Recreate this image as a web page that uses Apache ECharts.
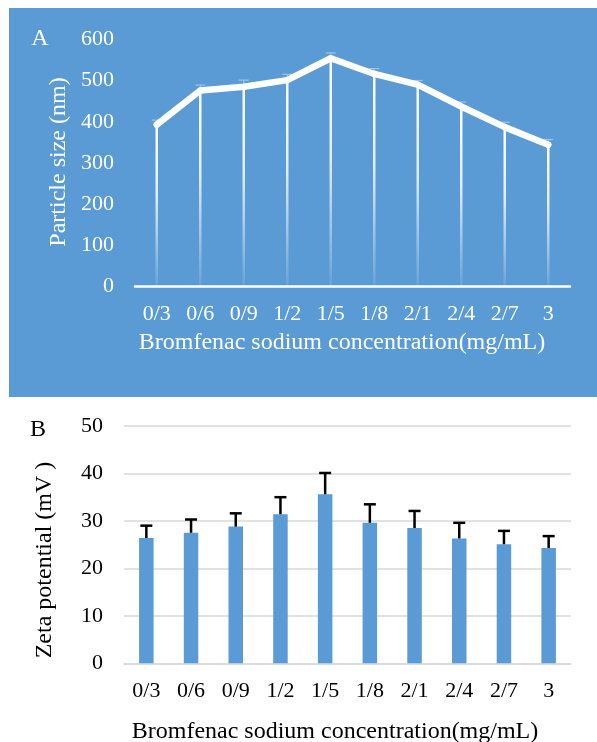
<!DOCTYPE html>
<html>
<head>
<meta charset="utf-8">
<script src="https://cdn.jsdelivr.net/npm/echarts@6/dist/echarts.min.js"></script>
<style>html,body{margin:0;padding:0;background:#fff}#c{width:597px;height:742px}</style>
</head>
<body>
<div id="c"></div>
<script>
const categories = ['0/3','0/6','0/9','1/2','1/5','1/8','2/1','2/4','2/7','3'];
const sizeValues = [393, 476, 485, 501, 554, 516, 490, 437, 387, 344];
const sizeErrors = [11, 13, 16, 14, 13, 13, 10, 11, 12, 13];
const zetaValues = [26.4, 27.5, 28.8, 31.4, 35.6, 29.6, 28.5, 26.3, 25.1, 24.3];
const zetaErrors = [2.6, 2.8, 2.8, 3.6, 4.5, 3.9, 3.6, 3.3, 2.8, 2.5];
const sizeTicks = {min: 0, max: 600, interval: 100};
const zetaTicks = {min: 0, max: 50, interval: 10};

const FONT = "'Liberation Serif', 'Times New Roman', serif";
const BLUE = '#5B9BD5';

function errRender(color, width, capW, upperOnly) {
  return function (params, api) {
    const i = api.value(0), v = api.value(1), e = api.value(2);
    const top = api.coord([i, v + e]);
    const bot = api.coord([i, upperOnly ? v : v - e]);
    const st = {stroke: color, lineWidth: width};
    return {type: 'group', children: [
      {type: 'line', shape: {x1: top[0], y1: top[1], x2: bot[0], y2: bot[1]}, style: st},
      {type: 'line', shape: {x1: top[0] - capW / 2, y1: top[1], x2: top[0] + capW / 2, y2: top[1]}, style: st}
    ]};
  };
}

const chart = echarts.init(document.getElementById('c'), null, {renderer: 'canvas'});
chart.setOption({
  animation: false,
  backgroundColor: '#ffffff',
  textStyle: {fontFamily: FONT},
  graphic: [
    {type: 'rect', z: -10, shape: {x: 9, y: 8, width: 600, height: 389}, style: {fill: BLUE}},
    {type: 'text', x: 40, y: 39, style: {text: 'A', fill: '#ffffff', font: '24px ' + FONT, align: 'center', verticalAlign: 'middle'}},
    {type: 'text', x: 59, y: 162, rotation: Math.PI / 2, style: {text: 'Particle size (nm)', fill: '#ffffff', font: '24px ' + FONT, align: 'center', verticalAlign: 'middle'}},
    {type: 'text', x: 342, y: 343, style: {text: 'Bromfenac sodium concentration(mg/mL)', fill: '#ffffff', font: '24px ' + FONT, align: 'center', verticalAlign: 'middle'}},
    {type: 'text', x: 38, y: 430, style: {text: 'B', fill: '#000000', font: '24px ' + FONT, align: 'center', verticalAlign: 'middle'}},
    {type: 'text', x: 45, y: 560, rotation: Math.PI / 2, style: {text: 'Zeta potential (mV )', fill: '#000000', font: '24px ' + FONT, align: 'center', verticalAlign: 'middle'}},
    {type: 'text', x: 335, y: 732, style: {text: 'Bromfenac sodium concentration(mg/mL)', fill: '#000000', font: '24px ' + FONT, align: 'center', verticalAlign: 'middle'}}
  ],
  grid: [
    {left: 135, right: 27, top: 39.3, height: 247.4},
    {left: 124, right: 26, top: 426, height: 237.3}
  ],
  xAxis: [
    {gridIndex: 0, type: 'category', data: categories, boundaryGap: true,
     axisLine: {show: true, lineStyle: {color: '#ffffff', width: 2.5}},
     axisTick: {show: false},
     axisLabel: {color: '#ffffff', fontSize: 22, fontFamily: FONT, margin: 17, interval: 0},
     splitLine: {show: false}},
    {gridIndex: 1, type: 'category', data: categories, boundaryGap: true,
     axisLine: {show: true, lineStyle: {color: '#d9d9d9', width: 1.5}},
     axisTick: {show: false},
     axisLabel: {color: '#000000', fontSize: 22, fontFamily: FONT, margin: 17, interval: 0},
     splitLine: {show: false}}
  ],
  yAxis: [
    {gridIndex: 0, type: 'value', min: sizeTicks.min, max: sizeTicks.max, interval: sizeTicks.interval,
     axisLine: {show: false}, axisTick: {show: false},
     axisLabel: {color: '#ffffff', fontSize: 22, fontFamily: FONT, margin: 21},
     splitLine: {show: false}},
    {gridIndex: 1, type: 'value', min: zetaTicks.min, max: zetaTicks.max, interval: zetaTicks.interval,
     axisLine: {show: false}, axisTick: {show: false},
     axisLabel: {color: '#000000', fontSize: 22, fontFamily: FONT, margin: 21},
     splitLine: {show: true, lineStyle: {color: '#d9d9d9', width: 1.5}}}
  ],
  series: [
    {type: 'custom', xAxisIndex: 0, yAxisIndex: 0, z: 1,
     renderItem: errRender('#9DC3E6', 1.2, 10, false),
     encode: {x: 0, y: 1},
     data: categories.map((c, i) => [i, sizeValues[i], sizeErrors[i]])},
    {type: 'bar', xAxisIndex: 0, yAxisIndex: 0, z: 2, barWidth: 2.5,
     itemStyle: {color: {type: 'linear', x: 0, y: 0, x2: 0, y2: 1, colorStops: [
       {offset: 0, color: 'rgba(255,255,255,1)'},
       {offset: 0.45, color: 'rgba(255,255,255,0.8)'},
       {offset: 1, color: 'rgba(255,255,255,0.08)'}]}},
     data: sizeValues},
    {type: 'line', xAxisIndex: 0, yAxisIndex: 0, z: 3, symbol: 'circle', symbolSize: 6, showSymbol: true,
     itemStyle: {color: '#ffffff'},
     lineStyle: {color: '#ffffff', width: 6.5, cap: 'round', join: 'round'},
     data: sizeValues},
    {type: 'bar', xAxisIndex: 1, yAxisIndex: 1, z: 2, barWidth: 14.5,
     itemStyle: {color: BLUE},
     data: zetaValues},
    {type: 'custom', xAxisIndex: 1, yAxisIndex: 1, z: 3,
     renderItem: errRender('#000000', 2.5, 12, true),
     encode: {x: 0, y: 1},
     data: categories.map((c, i) => [i, zetaValues[i], zetaErrors[i]])}
  ]
});
</script>
</body>
</html>
